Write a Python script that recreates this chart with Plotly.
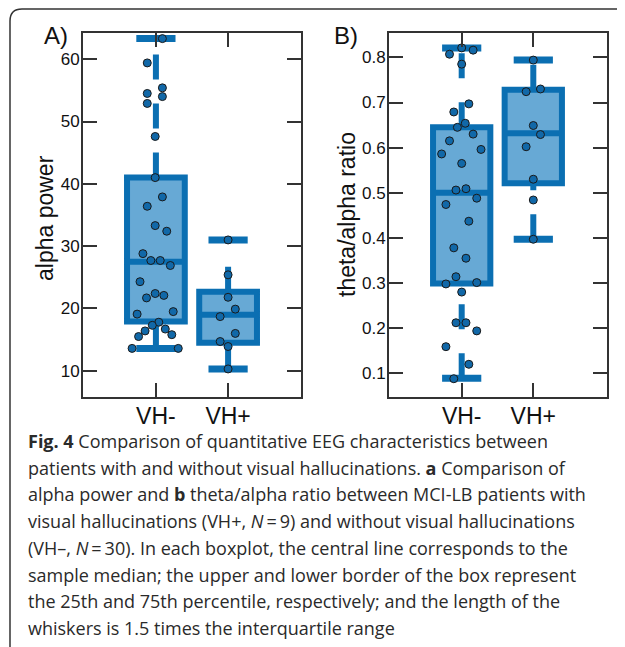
import plotly.graph_objects as go

# page body has an 8px margin, so the figure is 8px smaller and everything
# below is measured in window pixels and shifted back by OFF
OFF = 8
W, H = 625 - OFF, 647 - OFF

groups = ["VH-", "VH+"]

# panel A: alpha power
alpha_vhm = [63.3, 59.4, 54.5, 52.9, 55.4, 54.0, 47.6, 41.0, 37.9, 36.4,
             33.3, 32.4, 28.8, 27.7, 27.7, 26.9, 24.3, 22.4, 21.7, 22.1,
             19.1, 19.5, 17.8, 17.3, 16.4, 16.7, 15.5, 15.8, 13.6, 13.6]
alpha_vhm_jit = [0.09, -0.12, -0.12, -0.12, 0.09, 0.09, -0.01, -0.01, 0.09, -0.12,
                 -0.01, 0.15, -0.18, -0.07, 0.06, 0.2, -0.22, -0.01, -0.13, 0.11,
                 -0.26, 0.24, 0.04, -0.05, -0.15, 0.13, -0.24, 0.22, -0.33, 0.31]
alpha_vhp = [31.0, 25.4, 21.8, 19.9, 18.7, 16.0, 14.7, 13.9, 10.3]
alpha_vhp_jit = [0, 0, 0, 0.1, -0.11, 0.1, -0.11, 0, 0]

# box stats [VH-, VH+]
alpha_q1 = [17.9, 14.5]
alpha_med = [27.5, 19.0]
alpha_q3 = [41.0, 22.7]
alpha_lo = [13.6, 10.3]
alpha_hi = [63.3, 31.0]

# panel B: theta/alpha ratio
ratio_vhm = [0.807, 0.821, 0.816, 0.785, 0.697, 0.679, 0.654, 0.645, 0.630, 0.615,
             0.596, 0.586, 0.565, 0.506, 0.509, 0.488, 0.474, 0.437, 0.378, 0.355,
             0.314, 0.298, 0.301, 0.280, 0.212, 0.212, 0.194, 0.159, 0.120, 0.088]
ratio_vhm_jit = [-0.17, 0, 0.16, 0, 0.1, -0.11, 0.05, -0.06, 0.16, -0.17,
                 0.27, -0.28, 0, -0.08, 0.06, 0.21, -0.22, 0.1, -0.11, 0.06,
                 -0.08, -0.22, 0.21, 0, -0.08, 0.06, 0.21, -0.22, 0.1, -0.11]
ratio_vhp = [0.794, 0.724, 0.730, 0.649, 0.629, 0.602, 0.530, 0.484, 0.397]
ratio_vhp_jit = [0, -0.1, 0.1, 0, 0.1, -0.1, 0, 0, 0]

ratio_q1 = [0.299, 0.521]
ratio_med = [0.500, 0.632]
ratio_q3 = [0.645, 0.728]
ratio_lo = [0.089, 0.397]
ratio_hi = [0.821, 0.794]

caption = [
    "<b>Fig. 4</b> Comparison of quantitative EEG characteristics between",
    "patients with and without visual hallucinations. <b>a</b> Comparison of",
    "alpha power and <b>b</b> theta/alpha ratio between MCI-LB patients with",
    "visual hallucinations (VH+, <i>N</i>\u2009=\u20099) and without visual hallucinations",
    "(VH\u2013, <i>N</i>\u2009=\u200930). In each boxplot, the central line corresponds to the",
    "sample median; the upper and lower border of the box represent",
    "the 25th and 75th percentile, respectively; and the length of the",
    "whiskers is 1.5 times the interquartile range",
]

BLUE = "#0b6fb2"
FILL = "#67a9d5"
DOT = "#1168a8"
AX = "#333333"
FONT = "Liberation Sans, Arial, sans-serif"

fig = go.Figure()


def add_panel(xa, ya, q1, med, q3, lo, hi, pts):
    for i in range(len(groups)):
        fig.add_trace(go.Box(
            x=[i], q1=[q1[i]], median=[med[i]], q3=[q3[i]],
            lowerfence=[q1[i]], upperfence=[q3[i]],
            width=0.8, whiskerwidth=0, boxpoints=False,
            line=dict(color=BLUE, width=6), fillcolor=FILL,
            xaxis=xa, yaxis=ya, showlegend=False, hoverinfo="skip"))
        # dashed whiskers, drawn bottom to top
        for y0, y1 in [(q3[i], hi[i]), (lo[i], q1[i])]:
            fig.add_trace(go.Scatter(
                x=[i, i], y=[y0, y1], mode="lines",
                line=dict(color=BLUE, width=6, dash="25px,24px"),
                xaxis=xa, yaxis=ya, showlegend=False, hoverinfo="skip"))
        fig.add_trace(go.Scatter(
            x=[i, i], y=[lo[i], hi[i]], mode="markers",
            marker=dict(symbol="line-ew", size=28,
                        line=dict(color=BLUE, width=7)),
            xaxis=xa, yaxis=ya, showlegend=False, hoverinfo="skip"))
    for i, (vals, jit) in enumerate(pts):
        fig.add_trace(go.Scatter(
            x=[i + j for j in jit], y=vals, mode="markers",
            marker=dict(size=8, color=DOT, line=dict(color="#1a1a1a", width=1)),
            xaxis=xa, yaxis=ya, showlegend=False))


add_panel("x", "y", alpha_q1, alpha_med, alpha_q3, alpha_lo, alpha_hi,
          [(alpha_vhm, alpha_vhm_jit), (alpha_vhp, alpha_vhp_jit)])
add_panel("x2", "y2", ratio_q1, ratio_med, ratio_q3, ratio_lo, ratio_hi,
          [(ratio_vhm, ratio_vhm_jit), (ratio_vhp, ratio_vhp_jit)])


def px(x, y):
    return (x - OFF) / W, 1 - (y - OFF) / H


ydom = [px(0, 397)[1], px(0, 33)[1]]
common = dict(showline=True, linecolor=AX, linewidth=2, mirror="ticks",
              ticks="inside", ticklen=14, tickwidth=2, tickcolor=AX,
              showgrid=False, zeroline=False, fixedrange=True)
xcommon = dict(tickvals=[0, 1], ticktext=groups, ticklabelstandoff=-3,
               tickfont=dict(size=23, color="#111111"), **common)
ycommon = dict(ticklabelstandoff=-2, tickfont=dict(size=17, color="#111111"), **common)

fig.update_layout(
    width=W, height=H, margin=dict(l=0, r=0, t=0, b=0),
    paper_bgcolor="white", plot_bgcolor="white",
    font=dict(family=FONT, color="#222222"),
    xaxis=dict(domain=[px(83, 0)[0], px(301, 0)[0]], range=[-1.01, 2.01],
               anchor="y", **xcommon),
    yaxis=dict(domain=ydom, range=[5.8, 64.2], tickvals=[10, 20, 30, 40, 50, 60],
               anchor="x", **ycommon),
    xaxis2=dict(domain=[px(389, 0)[0], px(606.7, 0)[0]], range=[-1.015, 2.025],
                anchor="y2", **xcommon),
    yaxis2=dict(domain=ydom, range=[0.0475, 0.854],
                tickvals=[0.1, 0.2, 0.3, 0.4, 0.5, 0.6, 0.7, 0.8],
                tickformat=".1f", anchor="x2", **ycommon),
)

# panel letters and y titles
for txt, cx, cy, ang in [("A)", 55.5, 36, 0), ("B)", 345.5, 36, 0),
                         ("alpha power", 45, 218, -90),
                         ("theta/alpha ratio", 347, 215, -90)]:
    ax_, ay_ = px(cx, cy)
    fig.add_annotation(x=ax_, y=ay_, xref="paper", yref="paper", text=txt,
                       showarrow=False, textangle=ang, xanchor="center", yanchor="middle",
                       font=dict(size=24 if ang == 0 else 23, family=FONT, color="#111111"))

# caption lines
for k, line in enumerate(caption):
    ax_, ay_ = px(26, 441 + 26.7 * k)
    fig.add_annotation(x=ax_, y=ay_, xref="paper", yref="paper", text=line,
                       showarrow=False, xanchor="left", yanchor="middle",
                       font=dict(size=18, family="Open Sans, sans-serif", color="#2a2a2a"))

# rounded card frame
r = 12
x0, y0, x1, y1 = 10, 9, 680, 700


def P(x, y):
    a, b = px(x, y)
    return f"{a:.5f},{b:.5f}"


path = (f"M {P(x0 + r, y0)} L {P(x1, y0)} L {P(x1, y1)} L {P(x0 + r, y1)} "
        f"Q {P(x0, y1)} {P(x0, y1 - r)} L {P(x0, y0 + r)} Q {P(x0, y0)} {P(x0 + r, y0)} Z")
fig.add_shape(type="path", path=path, xref="paper", yref="paper",
              line=dict(color="#333333", width=1.5), layer="below")

fig.write_html("out.html")
